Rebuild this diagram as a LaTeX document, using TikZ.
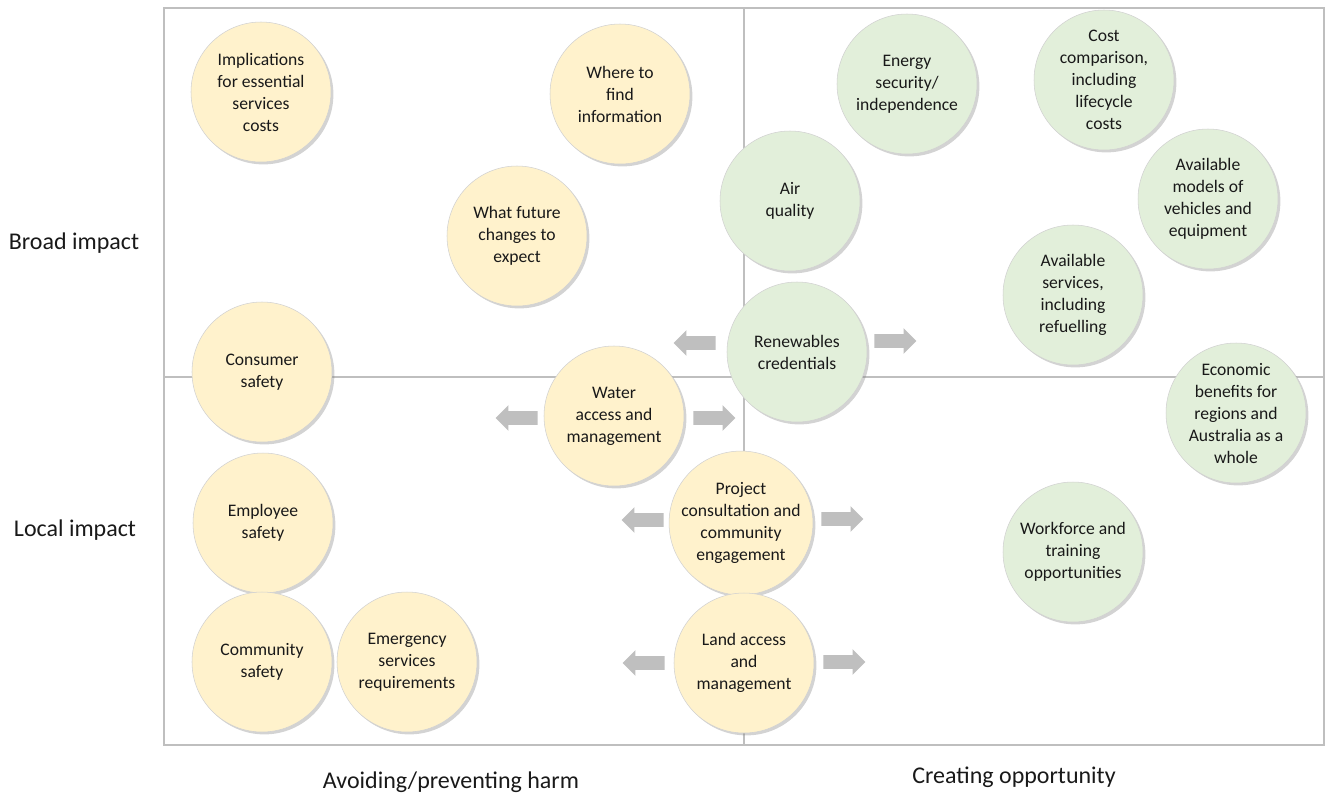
\documentclass[tikz,border=0pt]{standalone}
\usepackage{fontspec}
\setmainfont{Carlito}
\usetikzlibrary{shapes.arrows,shadows}
\definecolor{gridgray}{RGB}{191,191,191}
\definecolor{arrgray}{RGB}{191,191,191}
\definecolor{harmfill}{RGB}{255,242,204}
\definecolor{oppfill}{RGB}{226,239,218}
\definecolor{txt}{RGB}{25,25,25}
\tikzset{
  bubble/.style={circle, minimum size=140*0.75pt, inner sep=0pt, draw=black!18, line width=0.4pt,
    align=center, text=txt, font=\fontsize{13.2pt}{16.5pt}\selectfont,
    drop shadow={opacity=0.35, shadow xshift=1.8pt, shadow yshift=-1.8pt}},
  harm/.style={bubble, fill=harmfill},
  opp/.style={bubble, fill=oppfill},
  rarrow/.style={single arrow, fill=arrgray, draw=none, inner sep=4.9pt, single arrow head extend=4.5pt,
    minimum height=42*0.75pt, anchor=center},
  larrow/.style={rarrow, shape border rotate=180},
  axislabel/.style={font=\fontsize{18pt}{21pt}\selectfont, text=black!90}
}
\begin{document}
\begin{tikzpicture}[x=0.75pt,y=-0.75pt]
\useasboundingbox (0,0) rectangle (1325,794);
% grid
\draw[gridgray, line width=2.2pt] (164,8) rectangle (1324,745);
\draw[gridgray, line width=2.2pt] (744,8) -- (744,745);
\draw[gridgray, line width=2.2pt] (164,377) -- (1324,377);
% axis labels
\node[axislabel] (broad) at (74,243) {Broad impact};
\node[axislabel] (local) at (75,530) {Local impact};
\node[axislabel] (avoid) at (451,782) {Avoiding/preventing harm};
\node[axislabel] (create) at (1014,777) {Creating opportunity};
% arrows
\node[larrow] (a1l) at (698,343) {};
\node[rarrow] (a1r) at (892,341) {};
\node[larrow] (a2l) at (520,418) {};
\node[rarrow] (a2r) at (711,418) {};
\node[larrow] (a3l) at (646,520) {};
\node[rarrow] (a3r) at (839,519) {};
\node[larrow] (a4l) at (647,663) {};
\node[rarrow] (a4r) at (841,662) {};
% harm bubbles
\node[harm] (impl) at (261,92) {Implications\\for essential\\services\\costs};
\node[harm] (where) at (620,94) {Where to\\find\\information};
\node[harm] (future) at (517,236) {What future\\changes to\\expect};
\node[harm] (consumer) at (262,372) {Consumer\\safety};
\node[harm] (water) at (614,416) {Water\\access and\\management};
\node[harm] (employee) at (263,523) {Employee\\safety};
\node[harm] (community) at (262,662) {Community\\safety};
\node[harm] (emergency) at (407,662) {Emergency\\services\\requirements};
\node[harm] (project) at (741,523) {Project\\consultation and\\community\\engagement};
\node[harm] (land) at (744,663) {Land access\\and\\management};
% opportunity bubbles
\node[opp] (energy) at (907,84) {Energy\\security/\\independence};
\node[opp] (cost) at (1104,80) {Cost\\comparison,\\including\\lifecycle\\costs};
\node[opp] (air) at (790,201) {Air\\quality};
\node[opp] (models) at (1208,199) {Available\\models of\\vehicles and\\equipment};
\node[opp] (services) at (1073,295) {Available\\services,\\including\\refuelling};
\node[opp] (renew) at (797,352) {Renewables\\credentials};
\node[opp] (econ) at (1236,413) {Economic\\benefits for\\regions and\\Australia as a\\whole};
\node[opp] (work) at (1073,552) {Workforce and\\training\\opportunities};
\end{tikzpicture}
\end{document}
